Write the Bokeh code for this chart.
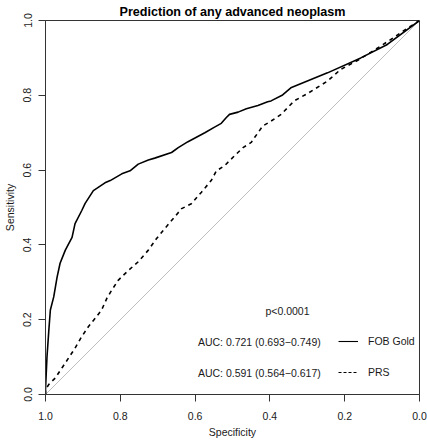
from bokeh.plotting import figure
from bokeh.models import Range1d, FixedTicker, NumeralTickFormatter, Label, Legend, LegendItem
from bokeh.embed import file_html
from bokeh.resources import INLINE

# ROC curve for FOB Gold (specificity, sensitivity)
fob_spec = [1.000, 1.000, 0.996, 0.991, 0.987, 0.978, 0.969, 0.961, 0.947, 0.929, 0.921,
            0.903, 0.894, 0.872, 0.863, 0.841, 0.827, 0.796, 0.774, 0.752, 0.725, 0.708,
            0.663, 0.645, 0.619, 0.574, 0.548, 0.530, 0.517, 0.508, 0.485, 0.463, 0.432,
            0.406, 0.397, 0.366, 0.344, 0.246, 0.157, 0.086, 0.000]
fob_sens = [0.000, 0.013, 0.101, 0.173, 0.226, 0.261, 0.314, 0.351, 0.386, 0.420, 0.457,
            0.492, 0.511, 0.545, 0.551, 0.566, 0.572, 0.590, 0.598, 0.616, 0.627, 0.632,
            0.647, 0.660, 0.676, 0.700, 0.715, 0.725, 0.740, 0.749, 0.755, 0.764, 0.773,
            0.783, 0.785, 0.801, 0.820, 0.860, 0.900, 0.936, 1.000]

# ROC curve for PRS
prs_spec = [1.000, 1.000, 0.991, 0.974, 0.956, 0.938, 0.921, 0.903, 0.885, 0.867, 0.850,
            0.836, 0.823, 0.805, 0.778, 0.752, 0.725, 0.703, 0.685, 0.663, 0.636, 0.610,
            0.583, 0.557, 0.543, 0.521, 0.495, 0.472, 0.450, 0.441, 0.419, 0.397, 0.370,
            0.335, 0.299, 0.246, 0.211, 0.166, 0.130, 0.086, 0.042, 0.000]
prs_sens = [0.000, 0.013, 0.027, 0.044, 0.071, 0.098, 0.124, 0.155, 0.182, 0.204, 0.226,
            0.257, 0.279, 0.306, 0.332, 0.355, 0.386, 0.417, 0.439, 0.465, 0.497, 0.510,
            0.541, 0.572, 0.598, 0.612, 0.638, 0.660, 0.674, 0.687, 0.718, 0.731, 0.749,
            0.785, 0.805, 0.838, 0.869, 0.893, 0.915, 0.943, 0.973, 1.000]

# chance diagonal
diag_spec = [1.0, 0.0]
diag_sens = [0.0, 1.0]

ticks = [0.0, 0.2, 0.4, 0.6, 0.8, 1.0]
series_names = ["FOB Gold", "PRS"]
auc_texts = ["AUC: 0.721 (0.693\u22120.749)", "AUC: 0.591 (0.564\u22120.617)"]
p_text = "p<0.0001"
title_text = "Prediction of any advanced neoplasm"
x_title = "Specificity"
y_title = "Sensitivity"

FONT = "Liberation Sans"
AX = "#333333"
TXT = "#1a1a1a"
FS = "10.5px"

p = figure(width=427, height=440, output_backend="svg", toolbar_location=None,
           x_range=Range1d(1, 0), y_range=Range1d(0, 1),
           min_border_left=43, min_border_right=8, min_border_top=19, min_border_bottom=45,
           title=title_text)
p.background_fill_color = "white"
p.border_fill_color = "white"
p.outline_line_color = AX
p.outline_line_width = 1
p.xgrid.visible = False
p.ygrid.visible = False

p.title.align = "center"
p.title.text_font = FONT
p.title.text_font_size = "12.6px"
p.title.text_font_style = "bold"
p.title.text_color = "black"
p.title.standoff = 4
p.title.offset = 0

for ax in (p.xaxis[0], p.yaxis[0]):
    ax.ticker = FixedTicker(ticks=ticks)
    ax.formatter = NumeralTickFormatter(format="0.0")
    ax.axis_line_color = AX
    ax.major_tick_line_color = AX
    ax.minor_tick_line_color = None
    ax.major_tick_out = 7
    ax.major_tick_in = 0
    ax.major_label_text_font = FONT
    ax.major_label_text_font_size = FS
    ax.major_label_text_color = TXT
    ax.axis_label_text_font = FONT
    ax.axis_label_text_font_size = FS
    ax.axis_label_text_font_style = "normal"
    ax.axis_label_text_color = TXT
p.xaxis.axis_label = x_title
p.yaxis.axis_label = y_title
p.xaxis.major_label_standoff = 10
p.xaxis.axis_label_standoff = 3
p.yaxis.major_label_standoff = 7
p.yaxis.axis_label_standoff = 5
p.yaxis.major_label_orientation = "vertical"

p.line(diag_spec, diag_sens, line_color="#bdbdbd", line_width=1)
p.line(prs_spec, prs_sens, line_color="black", line_width=1.6, line_dash="4 4")
p.line(fob_spec, fob_sens, line_color="black", line_width=1.6)

# legend keys: single-point lines (draw nothing on the plot)
k1 = p.line(fob_spec[:1], fob_sens[:1], line_color="black", line_width=1.1)
k2 = p.line(prs_spec[:1], prs_sens[:1], line_color="black", line_width=1.1, line_dash="3 2")
legend = Legend(items=[LegendItem(label=series_names[0], renderers=[k1]),
                       LegendItem(label=series_names[1], renderers=[k2])],
                location=(293, 12), orientation="vertical",
                background_fill_alpha=0, border_line_alpha=0, padding=0, margin=0,
                spacing=11, glyph_width=20, glyph_height=20, label_height=20,
                label_standoff=10, label_text_font=FONT, label_text_font_size=FS,
                label_text_color=TXT)
p.add_layout(legend, "center")

p.add_layout(Label(x=0.264, y=0.141, text=auc_texts[0], text_align="right",
                   text_baseline="middle", text_font=FONT, text_font_size=FS,
                   text_color=TXT))
p.add_layout(Label(x=0.264, y=0.0585, text=auc_texts[1], text_align="right",
                   text_baseline="middle", text_font=FONT, text_font_size=FS,
                   text_color=TXT))
p.add_layout(Label(x=0.353, y=0.223, text=p_text, text_align="center",
                   text_baseline="middle", text_font=FONT, text_font_size=FS,
                   text_color=TXT))

open("out.html", "w").write(file_html(p, INLINE))
